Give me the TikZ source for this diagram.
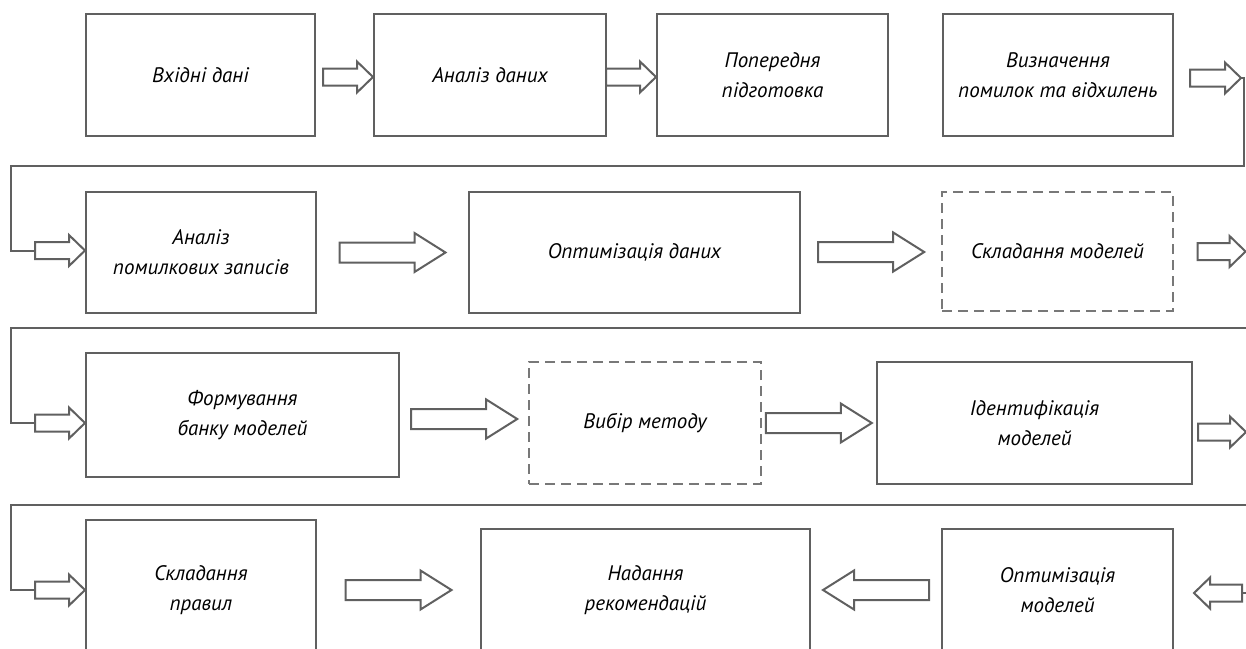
\documentclass[tikz,border=0pt]{standalone}
\usepackage{fontspec}
\setmainfont{PT Sans}
\usetikzlibrary{positioning,calc}
\definecolor{lnc}{HTML}{606060}
\tikzset{
  blk/.style={draw=lnc,line width=2pt,align=center,inner sep=0pt,
    font=\itshape\fontsize{21}{30}\selectfont},
  blkd/.style={blk,draw=lnc!85,line width=1.1pt,dash pattern=on 10pt off 6pt},
  farr/.style={draw=lnc,line width=2pt,line join=miter,fill=white}, % hollow block arrow
  flow/.style={draw=lnc,line width=2pt},                            % return line
}
% hollow arrow: half shaft, half head, head length, tail, tip
\newcommand{\hollowarr}[5]{%
  \path #4 coordinate (ha-s) #5 coordinate (ha-t);
  \path ($(ha-t)!#3pt!(ha-s)$) coordinate (ha-h);
  \draw[farr] ($(ha-s)!#1pt!90:(ha-t)$) -- ($(ha-h)!#1pt!90:(ha-t)$)
    -- ($(ha-h)!#2pt!90:(ha-t)$) -- (ha-t) -- ($(ha-h)!#2pt!-90:(ha-t)$)
    -- ($(ha-h)!#1pt!-90:(ha-t)$) -- ($(ha-s)!#1pt!-90:(ha-t)$) -- cycle;}
\newcommand{\smarr}[2]{\hollowarr{8.5}{15.5}{16}{#1}{#2}}
\newcommand{\lgarr}[2]{\hollowarr{10}{19.5}{31}{#1}{#2}}

\begin{document}
\begin{tikzpicture}[x=1pt,y=-1pt]
  \useasboundingbox (0,0) rectangle (1246,648);
  \clip (0,0) rectangle (1246,648);
  % row 1
  \node[blk,minimum width=229pt,minimum height=122pt] (inp) at (200.5,75) {Вхідні дані};
  \node[blk,minimum width=232pt,minimum height=122pt] (anl) at (490,75) {Аналіз даних};
  \node[blk,minimum width=231pt,minimum height=122pt] (prep) at (772.5,75) {Попередня\\підготовка};
  \node[blk,minimum width=230pt,minimum height=122pt] (err) at (1058,75) {Визначення\\помилок та відхилень};
  % row 2
  \node[blk,minimum width=230pt,minimum height=121pt] (errrec) at (201,252.5) {Аналіз\\помилкових записів};
  \node[blk,minimum width=331pt,minimum height=121pt] (optd) at (634.5,252.5) {Оптимізація даних};
  \node[blkd,minimum width=231pt,minimum height=119pt] (mdl) at (1057.5,251.5) {Складання моделей};
  % row 3
  \node[blk,minimum width=313pt,minimum height=124pt] (bank) at (242.5,415) {Формування\\банку моделей};
  \node[blkd,minimum width=232pt,minimum height=122pt] (meth) at (645,423) {Вибір методу};
  \node[blk,minimum width=315pt,minimum height=122pt] (ident) at (1034.5,423) {Ідентифікація\\моделей};
  % row 4 (runs off the page)
  \node[blk,minimum width=230pt,minimum height=140pt] (rules) at (201,590) {Складання\\правил};
  \node[blk,minimum width=329pt,minimum height=122pt] (recs) at (645.5,590) {Надання\\рекомендацій};
  \node[blk,minimum width=231pt,minimum height=122pt] (optm) at (1057.5,590) {Оптимізація\\моделей};

  % arrows inside the rows
  \foreach \b in {anl,prep}{\smarr{($(\b.west)+(-50,2)$)}{($(\b.west)+(0,2)$)}}
  \foreach \a/\b in {errrec/optd,optd/mdl,bank/meth,meth/ident,rules/recs}
    {\lgarr{($(\a.east)!.5!(\b.west)+(-53,0)$)}{($(\a.east)!.5!(\b.west)+(53,0)$)}}
  \lgarr{($(recs.east)!.5!(optm.west)+(53,0)$)}{($(recs.east)!.5!(optm.west)+(-53,0)$)}

  % row 1 -> row 2
  \coordinate (x1) at ($(err.east)+(16,3)$);
  \coordinate (x1t) at ($(x1)+(51,0)$);
  \smarr{(x1)}{(x1t)}
  \coordinate (c1) at (1244,166);
  \coordinate (c2) at (10.5,166);
  \coordinate (e5) at ($(errrec.west)+(-50,-2)$);
  \draw[flow] (x1t) -| (c1) -- (c2) |- (e5);
  \smarr{(e5)}{($(errrec.west)+(0,-2)$)}

  % row 2 -> row 3
  \coordinate (x2) at ($(mdl.east)+(24,0)$);
  \smarr{(x2)}{($(x2)+(48,0)$)}
  \coordinate (c3) at (1246,328);
  \coordinate (c4) at (10.5,328);
  \coordinate (e8) at ($(bank.west)+(-50,8)$);
  \draw[flow] (c3) -- (c4) |- (e8);
  \smarr{(e8)}{($(bank.west)+(0,8)$)}

  % row 3 -> row 4
  \coordinate (x3) at ($(ident.east)+(5,9)$);
  \smarr{(x3)}{($(x3)+(48,0)$)}
  \coordinate (c5) at (1246,505);
  \coordinate (c6) at (10.5,505);
  \coordinate (e11) at ($(rules.west)+(-50,0)$);
  \draw[flow] (c5) -- (c6) |- (e11);
  \smarr{(e11)}{(rules.west)}

  % back in from the right
  \coordinate (x4) at ($(optm.east)+(68,3)$);
  \coordinate (c7) at (1246,593);
  \draw[flow] (c7) -- (x4);
  \smarr{(x4)}{($(optm.east)+(20,3)$)}
\end{tikzpicture}
\end{document}
